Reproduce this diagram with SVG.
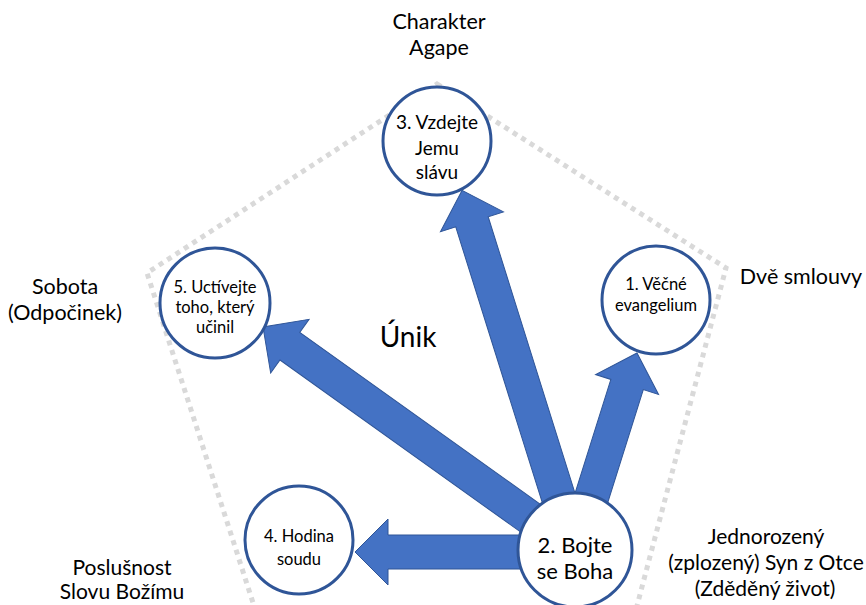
<svg xmlns="http://www.w3.org/2000/svg" width="866" height="605" viewBox="0 0 866 605">
<defs>
<style>
.bg{fill:#ffffff}
.pent{fill:none;stroke:#D9D9D9;stroke-width:5;stroke-dasharray:5 5}
.arrow{fill:#4472C4;stroke:#2F5597;stroke-width:1;stroke-linejoin:miter}
.node circle{fill:#ffffff;stroke:#2F5597;stroke-width:3}
text{font-family:Lato,"Liberation Sans","DejaVu Sans",sans-serif;fill:#000000;text-anchor:middle}
.lbl{font-size:21.5px}
.lbs{font-size:21px}
.n{font-size:16.5px}
</style>
</defs>
<rect class="bg" x="0" y="0" width="866" height="605"/>
<polygon class="pent" points="437,84 726,268 628,640 265,640 147,273"/>
<g id="connectors">
<polygon class="arrow" transform="translate(575,550) rotate(-107.43)" points="0,-17 344,-17 344,-33 377,0 344,33 344,17 0,17"/>
<polygon class="arrow" transform="translate(575,550) rotate(-72.53)" points="0,-17 173.5,-17 173.5,-33 206.5,0 173.5,33 173.5,17 0,17"/>
<polygon class="arrow" transform="translate(575,550) rotate(-144.44)" points="0,-17 350.5,-17 350.5,-33 383.5,0 350.5,33 350.5,17 0,17"/>
<polygon class="arrow" transform="translate(575,552) rotate(180)" points="0,-17 187,-17 187,-33 220,0 187,33 187,17 0,17"/>
</g>
<g id="node3" class="node">
<circle cx="437" cy="141" r="54"/>
<text x="437" y="129" style="font-size:19px">3. Vzdejte</text>
<text x="437" y="155" style="font-size:19px">Jemu</text>
<text x="437" y="179" style="font-size:19px">slávu</text>
</g>
<g id="node1" class="node">
<circle cx="656" cy="300" r="54"/>
<text class="n" x="656" y="290">1. Věčné</text>
<text class="n" x="656" y="311">evangelium</text>
</g>
<g id="node5" class="node">
<circle cx="215" cy="303" r="55"/>
<text class="n" x="215" y="293">5. Uctívejte</text>
<text class="n" x="215" y="313">toho, který</text>
<text class="n" x="215" y="333">učinil</text>
</g>
<g id="node4" class="node">
<circle cx="299" cy="540" r="54"/>
<text class="n" x="299" y="542">4. Hodina</text>
<text class="n" x="299" y="565">soudu</text>
</g>
<g id="node2" class="node">
<circle cx="575" cy="550" r="57"/>
<text x="575" y="553" style="font-size:22px">2. Bojte</text>
<text x="575" y="579" style="font-size:22px">se Boha</text>
</g>
<g id="labels">
<text class="lbl" x="439" y="29">Charakter</text>
<text class="lbl" x="439" y="55">Agape</text>
<text class="lbl" x="801" y="284">Dvě smlouvy</text>
<text class="lbl" x="65" y="294">Sobota</text>
<text class="lbl" x="65" y="320">(Odpočinek)</text>
<text class="lbs" x="766" y="544">Jednorozený</text>
<text class="lbs" x="766" y="570">(zplozený) Syn z Otce</text>
<text class="lbs" x="765" y="596">(Zděděný život)</text>
<text class="lbs" x="122" y="575">Poslušnost</text>
<text class="lbs" x="122" y="599">Slovu Božímu</text>
<text x="408" y="347" style="font-size:28px">Únik</text>
</g>
</svg>
